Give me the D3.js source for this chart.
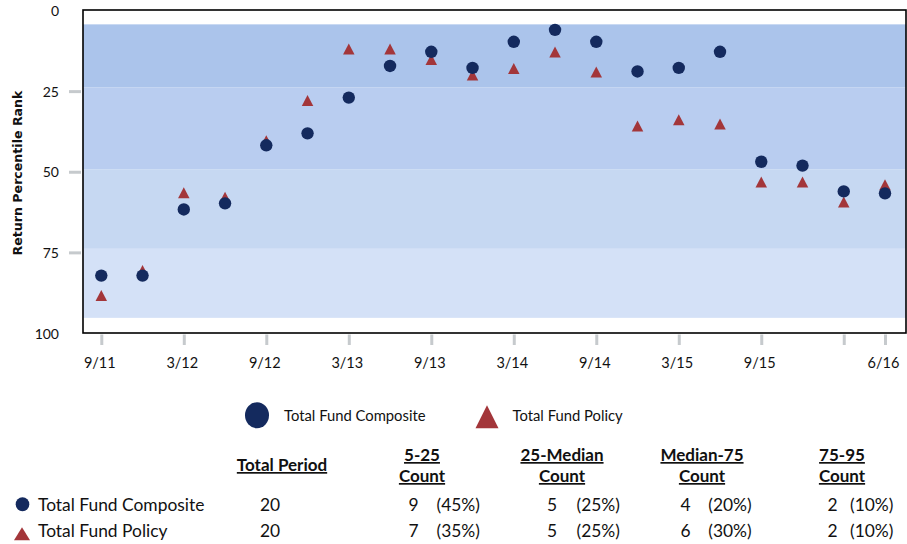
<!DOCTYPE html>
<html>
<head>
<meta charset="utf-8">
<script src="https://cdn.jsdelivr.net/npm/d3@7/dist/d3.min.js"></script>
<style>
  html, body { margin: 0; padding: 0; background: #ffffff; }
  svg { display: block; }
</style>
</head>
<body>
<svg id="chart" width="907" height="544"></svg>
<script>
// ---------------- DATA ----------------
const quarters = ["9/11","12/11","3/12","6/12","9/12","12/12","3/13","6/13","9/13","12/13",
                  "3/14","6/14","9/14","12/14","3/15","6/15","9/15","12/15","3/16","6/16"];
const compositeRank = [82.2,82.2,61.7,59.8,41.8,38.1,27.0,17.2,12.8,17.8,
                       9.7,6.0,9.7,18.9,17.8,12.8,46.9,48.1,56.1,56.7];
const policyRank    = [88.4,80.6,56.5,57.9,40.4,27.9,11.9,11.9,15.2,20.0,
                       18.0,12.9,19.1,35.8,33.9,35.2,53.2,53.2,59.4,54.0];
const xTickQuarters = ["9/11","3/12","9/12","3/13","9/13","3/14","9/14","3/15","9/15","3/16","6/16"];
const xLabelQuarters = ["9/11","3/12","9/12","3/13","9/13","3/14","9/14","3/15","9/15","6/16"];
const yTickValues = [0, 25, 50, 75, 100];
const yTickMarks = [25, 50, 75];
const bandEdges = [4.3, 23.9, 49.2, 73.9, 95.3];
const bandColors = ["#abc4eb", "#b9cdf0", "#c6d8f2", "#d4e1f7"];
const seriesNames = ["Total Fund Composite", "Total Fund Policy"];
const tableHeaders = [["Total Period"], ["5-25", "Count"], ["25-Median", "Count"], ["Median-75", "Count"], ["75-95", "Count"]];
const totalPeriod = [20, 20];
const compositeCounts = [9, 5, 4, 2];
const compositePct = ["(45%)", "(25%)", "(20%)", "(10%)"];
const policyCounts = [7, 5, 6, 2];
const policyPct = ["(35%)", "(25%)", "(30%)", "(10%)"];

// ---------------- STYLE ----------------
const navy = "#142a5e";
const red = "#a3363a";
const tickGray = "#c6cacd";
const FONT = "Lato, 'Open Sans', sans-serif";

const svg = d3.select("#chart");
const plot = { left: 83, right: 906, top: 10, bottom: 333 };

const x = d3.scalePoint().domain(quarters).range([101.3, 885]).padding(0);
const y = d3.scaleLinear().domain([0, 100]).range([10.5, 333]);

// bands
const bands = d3.range(bandEdges.length - 1).map(i => ({ y0: bandEdges[i], y1: bandEdges[i + 1], c: bandColors[i] }));
svg.append("g").selectAll("rect").data(bands).join("rect")
  .attr("x", plot.left).attr("width", plot.right - plot.left)
  .attr("y", d => y(d.y0)).attr("height", d => y(d.y1) - y(d.y0))
  .attr("fill", d => d.c);

// frame
svg.append("rect")
  .attr("x", plot.left).attr("y", plot.top)
  .attr("width", plot.right - plot.left).attr("height", plot.bottom - plot.top)
  .attr("fill", "none").attr("stroke", "#000").attr("stroke-width", 1.6);

// y axis
const yAxis = svg.append("g").attr("transform", `translate(${plot.left},0)`)
  .call(d3.axisLeft(y).tickValues(yTickValues).tickSize(0).tickPadding(0));
yAxis.select(".domain").remove();
yAxis.selectAll(".tick text")
  .attr("x", -24).attr("dy", "0.36em")
  .attr("font-family", FONT).attr("font-size", 14).attr("fill", "#111");
yAxis.selectAll(".tick").filter(d => yTickMarks.includes(d)).append("line")
  .attr("x1", -14).attr("x2", -2).attr("y1", 0).attr("y2", 0)
  .attr("stroke", tickGray).attr("stroke-width", 3);

// x axis
const xAxis = svg.append("g").attr("transform", `translate(0,${plot.bottom})`)
  .call(d3.axisBottom(x).tickValues(xTickQuarters).tickSize(0)
    .tickFormat(d => xLabelQuarters.includes(d) ? d : ""));
xAxis.select(".domain").remove();
xAxis.selectAll(".tick line").remove();
xAxis.selectAll(".tick").append("line")
  .attr("x1", 0).attr("x2", 0).attr("y1", 1.5).attr("y2", 12)
  .attr("stroke", tickGray).attr("stroke-width", 3);
xAxis.selectAll(".tick text")
  .attr("x", -2).attr("y", 34.5).attr("dy", null)
  .attr("font-family", FONT).attr("font-size", 14.5).attr("fill", "#111");

// y title
svg.append("text")
  .attr("transform", "translate(22,173) rotate(-90)")
  .attr("text-anchor", "middle")
  .attr("font-family", "'DejaVu Sans', Verdana, sans-serif")
  .attr("font-weight", "bold").attr("font-size", 12.6)
  .attr("fill", "#111")
  .text("Return Percentile Rank");

// markers
const triPath = (w, h) => `M0,${-h / 2}L${w / 2},${h / 2}L${-w / 2},${h / 2}Z`;
svg.append("g").selectAll("path").data(policyRank).join("path")
  .attr("d", triPath(11.5, 11))
  .attr("transform", (d, i) => `translate(${x(quarters[i])},${y(d)})`)
  .attr("fill", red);
svg.append("g").selectAll("circle").data(compositeRank).join("circle")
  .attr("cx", (d, i) => x(quarters[i])).attr("cy", d => y(d))
  .attr("r", 6.2).attr("fill", navy);

// legend
const legend = svg.append("g");
legend.append("ellipse").attr("cx", 257).attr("cy", 415.3).attr("rx", 12).attr("ry", 13).attr("fill", navy);
legend.append("text").attr("x", 284).attr("y", 421)
  .attr("font-family", FONT).attr("font-size", 14.8).attr("fill", "#111").text(seriesNames[0]);
legend.append("path").attr("d", triPath(23, 23)).attr("transform", "translate(487,416.7)").attr("fill", red);
legend.append("text").attr("x", 512.5).attr("y", 421)
  .attr("font-family", FONT).attr("font-size", 14.8).attr("fill", "#111").text(seriesNames[1]);

// table
const table = svg.append("g").attr("font-family", FONT).attr("fill", "#111");
const headerCenters = [282, 422, 562, 702, 842];
tableHeaders.forEach((lines, i) => {
  const baselines = lines.length === 1 ? [471] : [461, 482];
  lines.forEach((t, j) => {
    table.append("text").attr("x", headerCenters[i]).attr("y", baselines[j])
      .attr("text-anchor", "middle").attr("font-weight", "bold").attr("font-size", 17)
      .attr("text-decoration", "underline").text(t);
  });
});
const rowBase = [510.7, 537.3];
// row markers
table.append("ellipse").attr("cx", 22.5).attr("cy", 504.3).attr("rx", 6.8).attr("ry", 7).attr("fill", navy);
table.append("path").attr("d", triPath(16, 13)).attr("transform", "translate(22,533.7)").attr("fill", red);
const rows = [
  { name: seriesNames[0], total: totalPeriod[0], counts: compositeCounts, pct: compositePct },
  { name: seriesNames[1], total: totalPeriod[1], counts: policyCounts, pct: policyPct }
];
const countEnds = [418.5, 557, 690.7, 837.7];
const pctStarts = [436.5, 576.5, 708.3, 850];
rows.forEach((r, k) => {
  const yb = rowBase[k];
  table.append("text").attr("x", 38).attr("y", yb).attr("font-size", 17.4).text(r.name);
  table.append("text").attr("x", 270).attr("y", yb).attr("text-anchor", "middle").attr("font-size", 17.4).text(r.total);
  r.counts.forEach((c, i) => {
    table.append("text").attr("x", countEnds[i]).attr("y", yb).attr("text-anchor", "end").attr("font-size", 17.4).text(c);
    table.append("text").attr("x", pctStarts[i]).attr("y", yb).attr("font-size", 17.4).text(r.pct[i]);
  });
});
</script>
</body>
</html>
